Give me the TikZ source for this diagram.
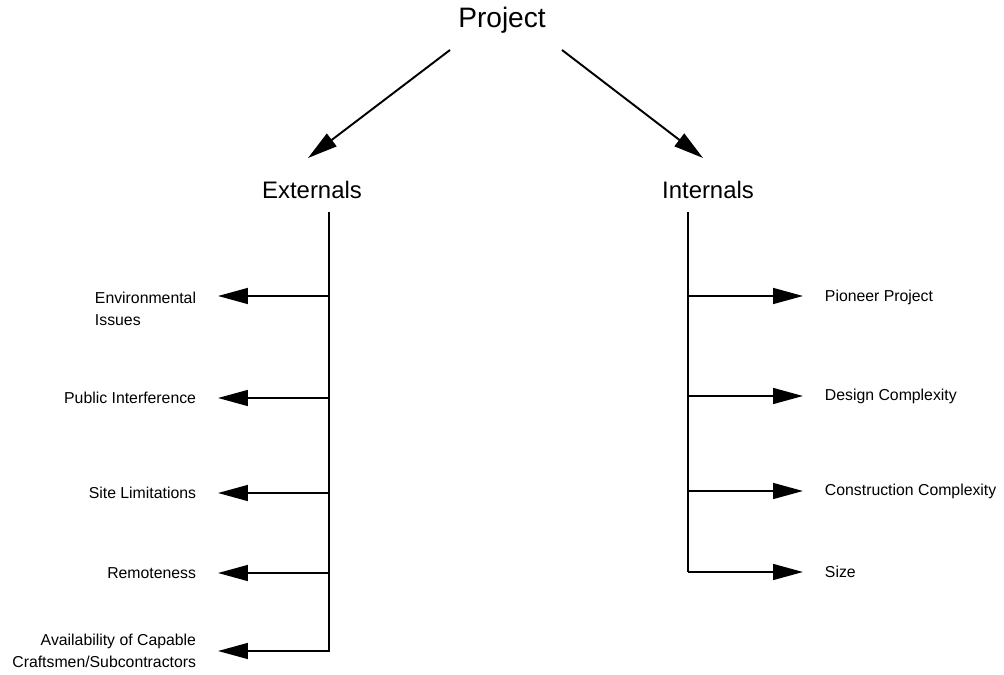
\documentclass[tikz,border=0pt]{standalone}
\usepackage{fontspec}
\setmainfont{Liberation Sans}
\usetikzlibrary{arrows.meta}
\begin{document}
\begin{tikzpicture}[x=0.02cm, y=-0.02cm, line width=1.1pt,
  >={Triangle[length=17pt, width=9pt]},
  head/.style={font=\fontsize{16}{19}\selectfont},
  side/.style={font=\fontsize{13.6}{16}\selectfont},
  item/.style={font=\fontsize{9}{12.5}\selectfont, inner sep=0pt, outer xsep=12.5pt}]
\useasboundingbox (0,0) rectangle (1004,675);
\node[head] (proj) at (502,20) {Project};
\node[side] (ext) at (312,190) {Externals};
\node[side] (int) at (708,190) {Internals};
\coordinate (pl) at (450,50);
\coordinate (pr) at (562,50);
\coordinate (el) at (308,158);
\coordinate (ir) at (703,158);
\draw[->] (pl) -- (el);
\draw[->] (pr) -- (ir);
% externals
\coordinate (et) at (329,212);
\coordinate (eb) at (329,652);
\coordinate (e1) at (329,296);
\coordinate (e2) at (329,398);
\coordinate (e3) at (329,493);
\coordinate (e4) at (329,573);
\coordinate (e5) at (329,651);
\node[item, align=left, anchor=east] (env) at (218,309) {Environmental\\Issues};
\node[item, anchor=east] (pub) at (218,398) {Public Interference};
\node[item, anchor=east] (site) at (218,493) {Site Limitations};
\node[item, anchor=east] (rem) at (218,573) {Remoteness};
\node[item, align=right, anchor=east] (avail) at (218,651) {Availability of Capable\\Craftsmen/Subcontractors};
\draw (et) -- (eb);
\draw[->] (e1) -- (e1 -| env.east);
\draw[->] (e2) -- (pub);
\draw[->] (e3) -- (site);
\draw[->] (e4) -- (rem);
\draw[->] (e5) -- (avail);
% internals
\coordinate (it) at (688,212);
\coordinate (i1) at (688,296);
\coordinate (i2) at (688,396);
\coordinate (i3) at (688,491);
\coordinate (i4) at (688,572);
\node[item, anchor=west] (pion) at (803,297) {Pioneer Project};
\node[item, anchor=west] (desg) at (803,396) {Design Complexity};
\node[item, anchor=west] (cons) at (803,491) {Construction Complexity};
\node[item, anchor=west] (size) at (803,572) {Size};
\draw (it) -- (i4);
\draw[->] (i1) -- (i1 -| pion.west);
\draw[->] (i2) -- (desg);
\draw[->] (i3) -- (cons);
\draw[->] (i4) -- (size);
\end{tikzpicture}
\end{document}
